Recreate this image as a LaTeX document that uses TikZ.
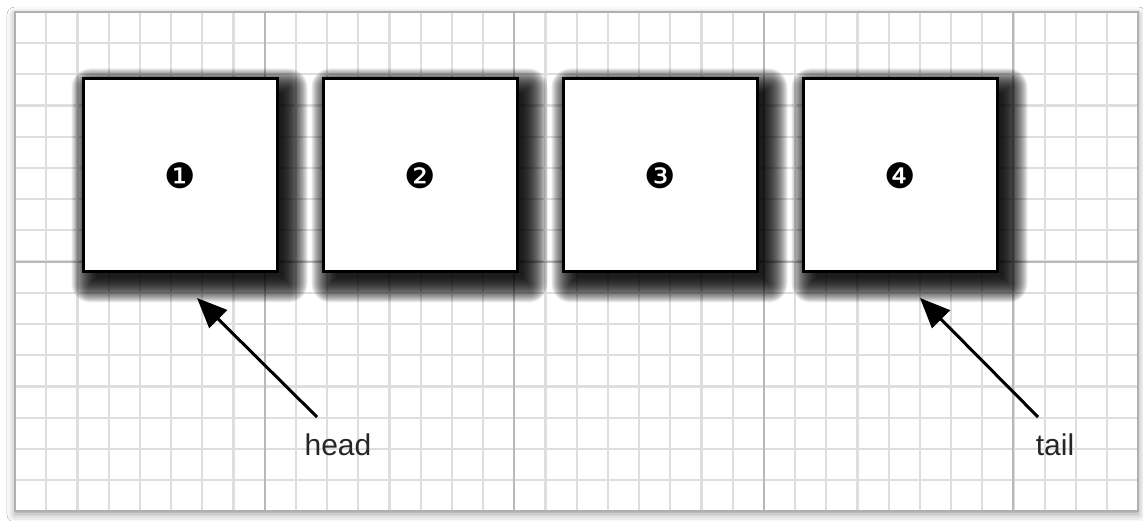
\documentclass[tikz,border=0pt]{standalone}
\usepackage{fontspec}
\setmainfont{Liberation Sans}
\newfontfamily\dingfont{DejaVu Sans}
\usetikzlibrary{arrows.meta,shadows.blur}
\pgfdeclarelayer{gridlayer}
\pgfdeclarelayer{shadowlayer}
\pgfsetlayers{gridlayer,shadowlayer,main}
\definecolor{minorgrid}{HTML}{DEDEDE}
\definecolor{majorgrid}{HTML}{B8B8B8}
\definecolor{framegrey}{HTML}{B0B0B0}
\tikzset{
  cellbox/.style={draw=black, line width=3pt, fill=white, minimum width=194pt, minimum height=193pt, inner sep=0pt},
  numlabel/.style={font=\dingfont\fontsize{35}{35}\selectfont, inner sep=0pt},
  ptrlabel/.style={font=\fontsize{30}{30}\selectfont, text=black!85, inner sep=0pt},
  pointer/.style={line width=3pt, black, -{Triangle[length=30pt,width=25pt]}},
  softshadow/.style={black, opacity=0.075},
}
\newcommand{\boxshadow}[1]{%
  \begin{pgfonlayer}{shadowlayer}
  \foreach \r in {19,18,...,-6} {
    \fill[softshadow, rounded corners={max(\r,1)*1pt}]
      ([shift={({9-\r},{10-\r})}]#1.north west) rectangle ([shift={({10+\r},{10+\r})}]#1.south east);
  }
  \end{pgfonlayer}}
\begin{document}
\begin{tikzpicture}[x=1pt,y=-1pt]
\useasboundingbox (0,0) rectangle (1143,521);
\begin{pgfonlayer}{gridlayer}
\fill[white] (0,0) rectangle (1143,521);
% frame with soft shadow
\fill[white, blur shadow={shadow xshift=0pt, shadow yshift=-3pt, shadow blur radius=8pt, shadow opacity=40}] (15,12) rectangle (1138.2,511.2);
% minor grid
\foreach \i in {1,...,35} {
  \draw[minorgrid, line width=2.2pt] ({15+31.2*\i},12) -- ({15+31.2*\i},511.2);
}
\foreach \j in {1,...,15} {
  \draw[minorgrid, line width=2.2pt] (15,{12+31.2*\j}) -- (1138.2,{12+31.2*\j});
}
% major grid
\foreach \i in {8,16,24,32} {
  \draw[majorgrid, line width=2pt] ({15+31.2*\i},12) -- ({15+31.2*\i},511.2);
}
\draw[majorgrid, line width=2pt] (15,{12+31.2*8}) -- (1138.2,{12+31.2*8});
\draw[framegrey, line width=2.4pt] (15,12) rectangle (1138.2,511.2);
\end{pgfonlayer}
% boxes
\node[cellbox] (b1) at (180,175.5) {};
\node[cellbox] (b2) at (420,175.5) {};
\node[cellbox] (b3) at (660,175.5) {};
\node[cellbox] (b4) at (900,175.5) {};
\boxshadow{b1}\boxshadow{b2}\boxshadow{b3}\boxshadow{b4}
\node[numlabel] (n1) at (b1.center) {❶};
\node[numlabel] (n2) at (b2.center) {❷};
\node[numlabel] (n3) at (b3.center) {❸};
\node[numlabel] (n4) at (b4.center) {❹};
% pointers
\node[ptrlabel] (head) at (338,445) {head};
\node[ptrlabel] (tail) at (1055,445) {tail};
\coordinate (headfrom) at (317,417);
\coordinate (headtip) at (197,298);
\coordinate (tailfrom) at (1038,417);
\coordinate (tailtip) at (920,298);
\draw[pointer] (headfrom) -- (headtip);
\draw[pointer] (tailfrom) -- (tailtip);
\end{tikzpicture}
\end{document}
